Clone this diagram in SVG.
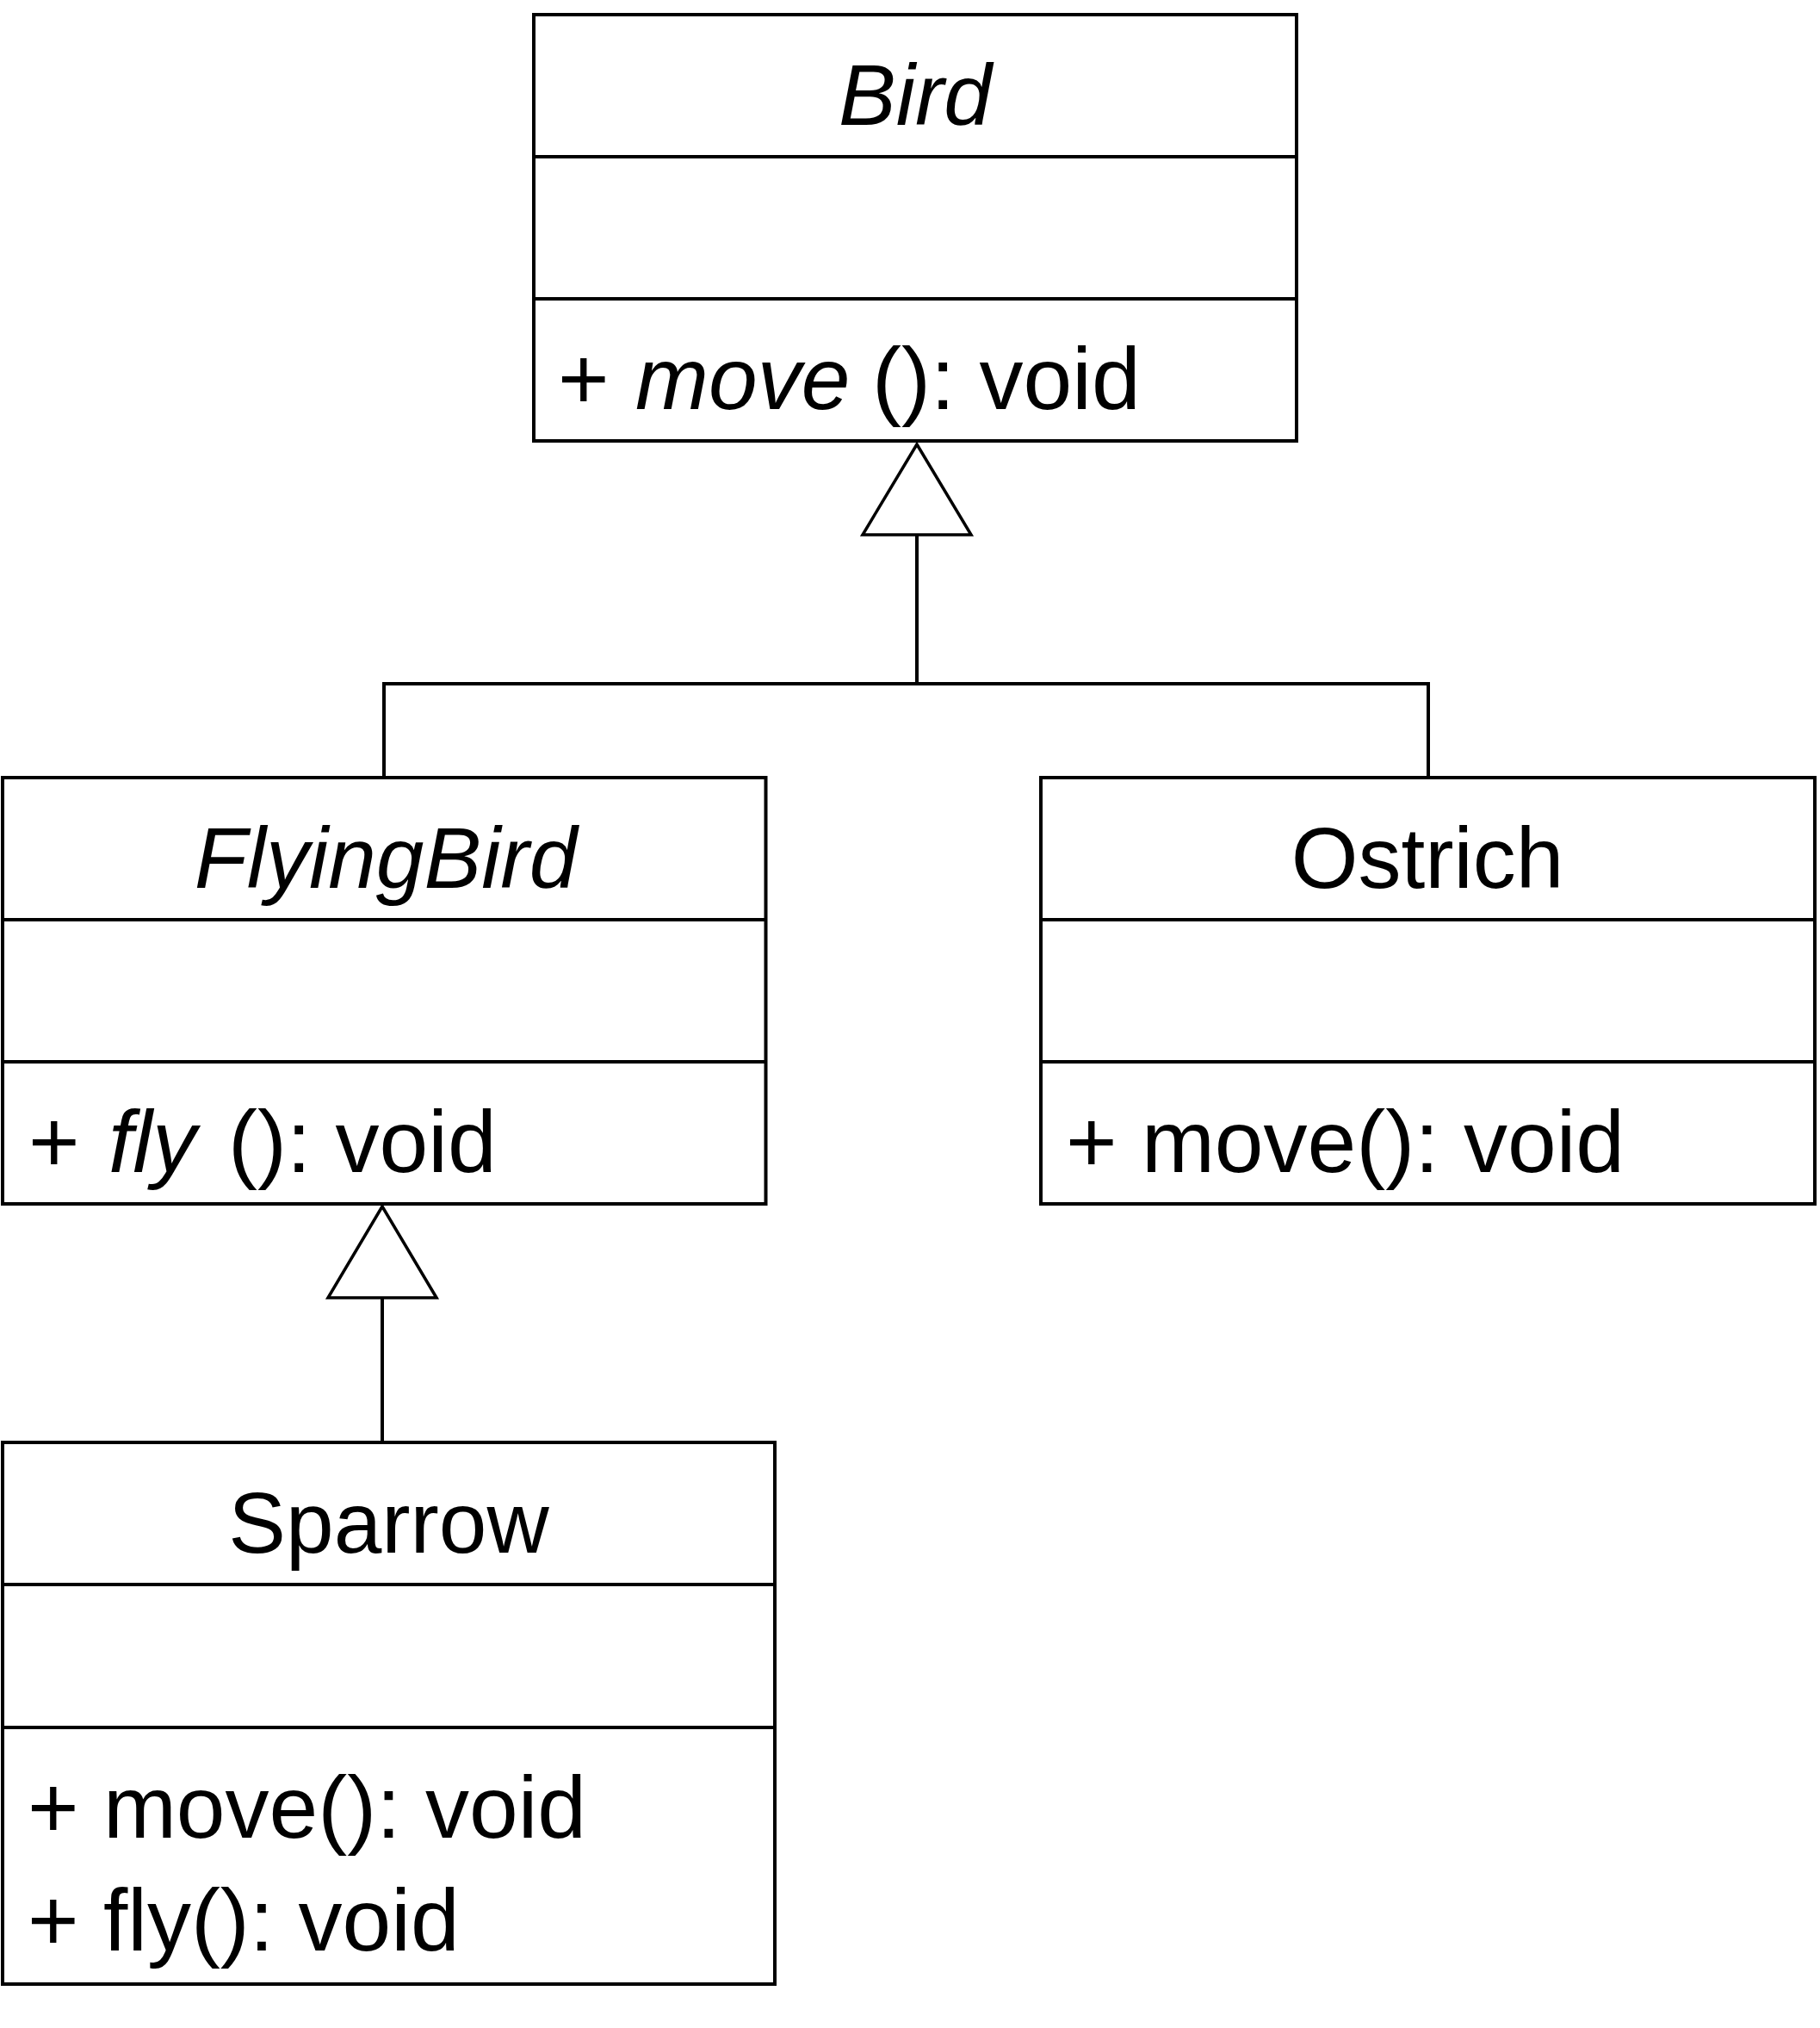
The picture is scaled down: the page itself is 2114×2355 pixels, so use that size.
<svg xmlns="http://www.w3.org/2000/svg" width="2114" height="2355" viewBox="0 0 2114 2355">
<style>
.box{fill:#fff;stroke:#000;stroke-width:4}
.div{stroke:#000;stroke-width:4}
.t{font-family:"Liberation Sans",Arial,sans-serif;font-size:100px;fill:#000}
.m{font-size:102px}
.c{text-anchor:middle}
.i{font-style:italic}
.con{stroke:#000;stroke-width:4;fill:none}
.tri{fill:#fff;stroke:#000;stroke-width:3.5;stroke-linejoin:miter}
</style>
<rect width="2114" height="2355" fill="#fff"/>
<g id="connectors">
<line class="con" x1="1065" y1="621" x2="1065" y2="794"/>
<line class="con" x1="444" y1="794" x2="1661" y2="794"/>
<line class="con" x1="446" y1="794" x2="446" y2="903"/>
<line class="con" x1="1659" y1="794" x2="1659" y2="903"/>
<polygon class="tri" points="1065,516 1002,621 1128,621"/>
<line class="con" x1="444" y1="1507" x2="444" y2="1675"/>
<polygon class="tri" points="444,1401 381,1507 507,1507"/>
</g>
<g id="Bird">
<rect class="box" x="620" y="17" width="886" height="495"/>
<line class="div" x1="620" y1="182" x2="1506" y2="182"/>
<line class="div" x1="620" y1="347" x2="1506" y2="347"/>
<text class="t c i" x="1063" y="145">Bird</text>
<text class="t m" y="475"><tspan x="648">+</tspan><tspan x="738" class="i">move</tspan><tspan x="1013">(): void</tspan></text>
</g>
<g id="FlyingBird">
<rect class="box" x="3" y="903" width="886.5" height="495"/>
<line class="div" x1="3" y1="1068" x2="889.5" y2="1068"/>
<line class="div" x1="3" y1="1233" x2="889.5" y2="1233"/>
<text class="t c i" x="448" y="1031">FlyingBird</text>
<text class="t m" y="1361"><tspan x="33">+</tspan><tspan x="126" class="i">fly</tspan><tspan x="265">(): void</tspan></text>
</g>
<g id="Ostrich">
<rect class="box" x="1209" y="903" width="899" height="495"/>
<line class="div" x1="1209" y1="1068" x2="2108" y2="1068"/>
<line class="div" x1="1209" y1="1233" x2="2108" y2="1233"/>
<text class="t c" x="1658" y="1031">Ostrich</text>
<text class="t m" x="1238" y="1361">+ move(): void</text>
</g>
<g id="Sparrow">
<rect class="box" x="3" y="1675" width="897" height="629"/>
<line class="div" x1="3" y1="1840" x2="900" y2="1840"/>
<line class="div" x1="3" y1="2006" x2="900" y2="2006"/>
<text class="t c" x="451.5" y="1803">Sparrow</text>
<text class="t m" x="32" y="2134">+ move(): void</text>
<text class="t m" x="32" y="2265">+ fly(): void</text>
</g>
</svg>
